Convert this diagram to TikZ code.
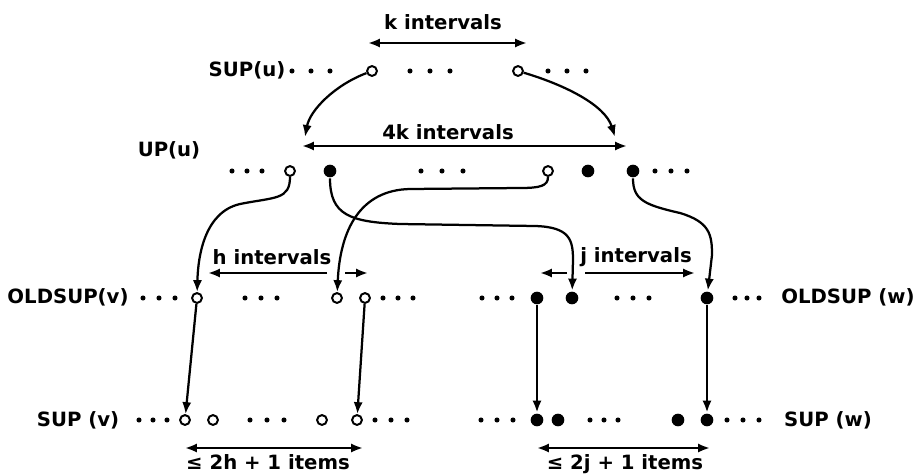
\documentclass[tikz,border=0pt]{standalone}
\usepackage{fontspec}
\setmainfont{DejaVu Sans}
\usepackage{tikz}
\usetikzlibrary{positioning, arrows.meta}

% three small dots: [spacing]{x}{y}
\newcommand{\threedots}[3][16]{%
  \foreach \dx in {-1,0,1} \fill (#2+\dx*#1,#3) circle (1.8pt);}

\begin{document}
\begin{tikzpicture}[x=0.025cm, y=-0.025cm, ->, >={Latex[length=8.5pt,width=6.5pt]}, line width=1.6pt,
    opn/.style={circle, draw, line width=1.4pt, inner sep=0pt, minimum size=7pt},
    ful/.style={circle, fill, inner sep=0pt, minimum size=9pt},
    lbl/.style={font=\fontsize{14}{16}\selectfont\bfseries, inner sep=1pt}]
  \useasboundingbox (0,0) rectangle (917,475);

  % SUP(u)
  \node[lbl] (lsu) at (247,70) {SUP(u)};
  \node[opn] (a1) at (372,71) {};
  \node[opn] (a2) at (518,71) {};
  \threedots[19]{311}{71} \threedots[20]{430}{71} \threedots[19]{567}{71}
  \node[lbl] (tk) at (443,22) {k intervals};
  \coordinate (ka) at (368,43); \coordinate (kb) at (527,43);
  \draw[<->] (ka) -- (kb);

  % UP(u)
  \node[lbl] (lup) at (169,150) {UP(u)};
  \node[opn] (b1) at (290,171) {};
  \node[ful] (b2) at (330,171) {};
  \node[opn] (b3) at (548,171) {};
  \node[ful] (b4) at (588,171) {};
  \node[ful] (b5) at (633,171) {};
  \threedots[15]{247}{171} \threedots[21]{442}{171} \threedots[16]{671}{171}
  \node[lbl] (t4k) at (448,132) {4k intervals};
  \coordinate (la) at (302,146); \coordinate (lb) at (627,146);
  \draw[<->] (la) -- (lb);
  \coordinate (ta) at (305,137); \coordinate (tb) at (615,137);
  \draw (a1) .. controls (335,85) and (310,110) .. (ta);
  \draw (a2) .. controls (565,85) and (605,105) .. (tb);

  % OLDSUP(v) and OLDSUP(w)
  \node[lbl] (lov) at (68,297) {OLDSUP(v)};
  \node[opn] (c1) at (197,298) {};
  \node[opn] (c2) at (337,298) {};
  \node[opn] (c3) at (365,298) {};
  \threedots{159}{298} \threedots{261}{298} \threedots[15]{398}{298}
  \node[ful] (d1) at (537,298) {};
  \node[ful] (d2) at (572,298) {};
  \node[ful] (d3) at (707,298) {};
  \threedots[15]{497}{298} \threedots{633}{298} \threedots[12]{747}{298}
  \node[lbl] (low) at (848,297) {OLDSUP (w)};

  \node[lbl] (th) at (272,257) {h intervals};
  \coordinate (ha) at (327,273); \coordinate (hb) at (208,273);
  \coordinate (hc) at (345,273); \coordinate (hd) at (368,273);
  \draw (ha) -- (hb);
  \draw (hc) -- (hd);
  \node[lbl] (tj) at (636,257) {j intervals};
  \coordinate (ja) at (567,273); \coordinate (jb) at (540,273);
  \coordinate (jc) at (585,273); \coordinate (jd) at (695,273);
  \draw (ja) -- (jb);
  \draw (jc) -- (jd);

  % UP(u) to OLDSUP
  \draw (b1) .. controls (290,200) and (275,197) .. (240,204)
             .. controls (205,212) and (198,255) .. (c1);
  \draw (b2) .. controls (330,215) and (350,222) .. (400,224) -- (535,226)
             .. controls (570,227) and (573,240) .. (573,260) -- (d2);
  \draw (b3) .. controls (548,186) and (540,188) .. (520,188) -- (410,189)
             .. controls (360,190) and (340,230) .. (c2);
  \draw (b5) .. controls (633,200) and (645,205) .. (680,213)
             .. controls (710,222) and (712,235) .. (712,255) -- (d3);

  % SUP(v) and SUP(w)
  \node[lbl] (lsv) at (78,420) {SUP (v)};
  \node[opn] (e1) at (185,420) {};
  \node[opn] (e2) at (213,420) {};
  \node[opn] (e3) at (322,420) {};
  \node[opn] (e4) at (357,420) {};
  \threedots[14]{153}{420} \threedots[17]{267}{420} \threedots{391}{420}
  \node[ful] (f1) at (537,420) {};
  \node[ful] (f2) at (558,420) {};
  \node[ful] (f3) at (678,420) {};
  \node[ful] (f4) at (707,420) {};
  \threedots{497}{420} \threedots[14]{604}{420} \threedots{743}{420}
  \node[lbl] (lsw) at (828,420) {SUP (w)};

  \draw (c1) edge[] (e1);
  \draw (c3) edge[] (e4);
  \draw (d1) edge[] (f1);
  \draw (d3) edge[] (f4);

  % item counts
  \coordinate (ia) at (185,448); \coordinate (ib) at (363,448);
  \draw[<->] (ia) -- (ib);
  \node[lbl, anchor=base] (tih) at (268,469) {≤ 2h + 1 items};
  \coordinate (ic) at (537,448); \coordinate (id) at (710,448);
  \draw[<->] (ic) -- (id);
  \node[lbl, anchor=base] (tij) at (625,469) {≤ 2j + 1 items};
\end{tikzpicture}
\end{document}
